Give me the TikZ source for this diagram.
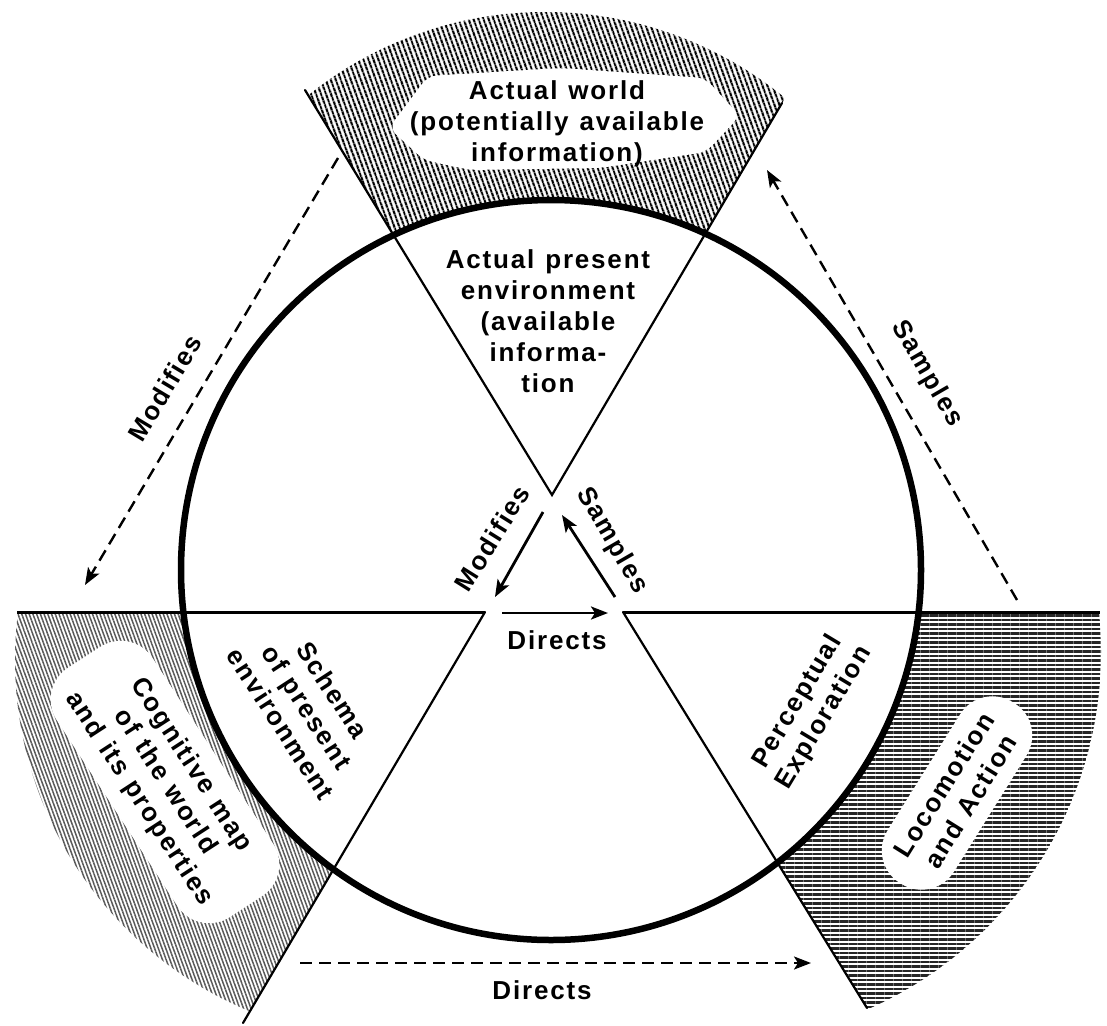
\documentclass[tikz,border=0pt]{standalone}
\usepackage{fontspec}
\newfontfamily\lettering{Liberation Sans}[LetterSpace=7]
\usetikzlibrary{arrows.meta,patterns.meta}

\begin{document}
\begin{tikzpicture}[
  x=1pt, y=-1pt,
  font=\lettering\bfseries\fontsize{26}{31}\selectfont,
  word/.style={align=center, inner sep=1pt,
    execute at begin node={\spaceskip=0.42em plus 0.1em\relax}},
  blob/.style={word, fill=white, rounded corners=38pt, inner xsep=24pt,
    inner ysep=14pt},
  ray/.style={line width=2.2pt, line cap=round},
  ground/.style={line width=3pt},
  rim/.style={line width=6.5pt},
  flow/.style={-{Stealth[length=17pt, width=13pt, inset=4pt]},
    line width=2.8pt},
  outflow/.style={flow, line width=2.4pt, dash pattern=on 12pt off 7pt},
  worldhatch/.style={pattern={Lines[angle=110, distance=4pt,
    line width=2.2pt]}},
  maphatch/.style={pattern={Lines[angle=110, distance=3.5pt,
    line width=1.5pt]}, pattern color=black!65},
  acthatch/.style={pattern={Lines[angle=0, distance=4.5pt,
    line width=2.4pt]}, pattern color=black!85},
]
\useasboundingbox (0,0) rectangle (1107,1025);

% ---- fixed points of the three dividing lines ------------------------------
\coordinate (ctr) at (551,570);
\coordinate (apex) at (552,495);
\coordinate (tl) at (305,90);
\coordinate (tr) at (782,103);
\coordinate (hl) at (17,612);
\coordinate (hr) at (1100,612);
\coordinate (cl) at (485,612);
\coordinate (cr) at (623,612);
\coordinate (bl) at (243,1023);
\coordinate (br) at (867,1008);

% ---- shaded outer sectors -------------------------------------------------
\begin{scope}
  \clip (apex) -- (220,-50) -- (872,-50) -- cycle;
  \fill[worldhatch] (545,390) circle[radius=378];
\end{scope}
\begin{scope}
  \clip (cl) -- (-50,612) -- (-50,1100) -- (198,1100) -- cycle;
  \fill[maphatch] (395,660) circle[radius=380];
\end{scope}
\begin{scope}
  \clip (cr) -- (1200,612) -- (1200,1100) -- (924,1100) -- cycle;
  \fill[acthatch] (711,652) circle[radius=390];
\end{scope}
\fill[white] (ctr) circle[radius=370];
\fill[white, rounded corners=9pt] (389,128) -- (428,76) -- (560,68)
  -- (705,78) -- (740,116) -- (706,152) -- (600,168) -- (470,170)
  -- (424,160) -- cycle;

% ---- texts of the sectors -------------------------------------------------
\node[word] (world) at (557,124)
  {Actual world\\(potentially available\\information)};
\node[word] (present) at (548,321)
  {Actual present\\environment\\(available\\informa-\\tion};
\node[word, rotate=-57] (schema) at (307,707)
  {Schema\\of present\\environment};
\node[word, rotate=59] (percept) at (811,710) {Perceptual\\Exploration};
\node[blob, rotate=-57] (cogmap) at (165,782)
  {Cognitive map\\of the world\\and its properties};
\node[blob, rotate=58] (locom) at (957,793) {Locomotion\\and Action};

% ---- dividing lines and the cycle -----------------------------------------
\draw[ray] (tl) -- (apex) -- (tr);
\draw[ray] (cl) -- (bl);
\draw[ray] (cr) -- (br);
\draw[ground] (hl) -- (cl);
\draw[ground] (cr) -- (hr);
\draw[rim] (ctr) circle[radius=370];

% ---- arrows ---------------------------------------------------------------
\coordinate (modA) at (543,512);  \coordinate (modB) at (495,597);
\coordinate (samA) at (615,597);  \coordinate (samB) at (562,515);
\coordinate (dirA) at (502,613);  \coordinate (dirB) at (608,613);
\coordinate (omodA) at (338,158); \coordinate (omodB) at (85,585);
\coordinate (osamA) at (1017,600); \coordinate (osamB) at (767,170);
\coordinate (odirA) at (300,963); \coordinate (odirB) at (811,963);

\foreach \a/\b in {modA/modB, samA/samB, dirA/dirB}
  \draw[flow] (\a) -- (\b);
\foreach \a/\b in {omodA/omodB, osamA/osamB, odirA/odirB}
  \draw[outflow] (\a) -- (\b);

\node[word, rotate=58] (modin) at (492,538) {Modifies};
\node[word, rotate=-60] (samin) at (612,541) {Samples};
\node[word] (dirin) at (557,640) {Directs};
\node[word, rotate=59] (modout) at (165,388) {Modifies};
\node[word, rotate=-60] (samout) at (927,374) {Samples};
\node[word] (dirout) at (542,990) {Directs};

\end{tikzpicture}
\end{document}
